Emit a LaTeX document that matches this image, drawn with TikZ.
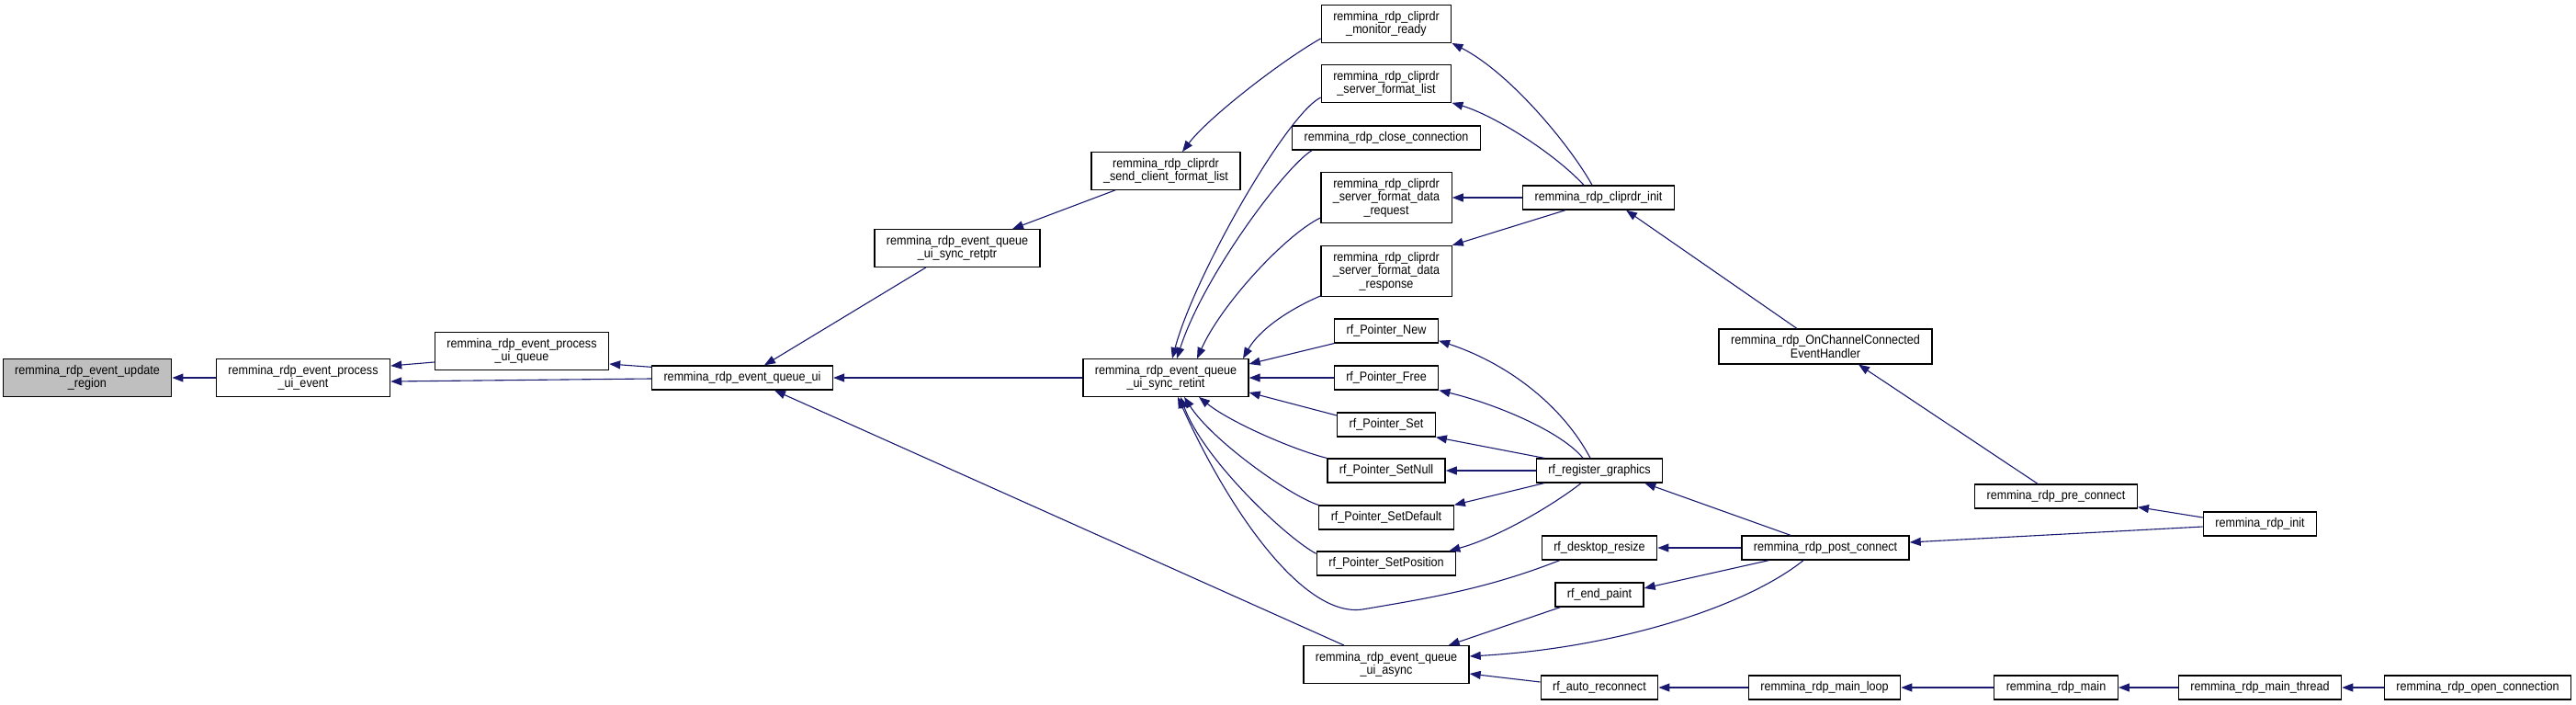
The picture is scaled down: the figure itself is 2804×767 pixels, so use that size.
\documentclass[tikz,border=0pt]{standalone}
\usepackage{fontspec}
\setmainfont{Liberation Sans}[FakeStretch=0.9]
\usetikzlibrary{arrows.meta}
\definecolor{edgeblue}{HTML}{191970}
\definecolor{rootgray}{HTML}{BFBFBF}
\begin{document}
\begin{tikzpicture}[
    x=1pt, y=-1pt,
    fn/.style={rectangle, draw=black, line width=1.3pt, fill=white, align=center,
        font=\fontsize{14}{14.5}\selectfont, inner xsep=13pt, inner ysep=6.5pt, minimum height=26pt},
    root/.style={fn, fill=rootgray},
    call/.style={-{Triangle[length=12pt,width=9pt]}, color=edgeblue, line width=1.1pt}
]
    \useasboundingbox (0,0) rectangle (2804,767);

    % Nodes
    \node[root] (upd) at (95,411) {remmina\_rdp\_event\_update\\\_region};
    \node[fn] (pev) at (330,411) {remmina\_rdp\_event\_process\\\_ui\_event};
    \node[fn] (pq) at (568,382) {remmina\_rdp\_event\_process\\\_ui\_queue};
    \node[fn] (qui) at (808,411) {remmina\_rdp\_event\_queue\_ui};
    \node[fn] (retptr) at (1042,270) {remmina\_rdp\_event\_queue\\\_ui\_sync\_retptr};
    \node[fn] (sendfl) at (1269,186) {remmina\_rdp\_cliprdr\\\_send\_client\_format\_list};
    \node[fn] (retint) at (1269,411) {remmina\_rdp\_event\_queue\\\_ui\_sync\_retint};

    \node[fn] (monrdy) at (1509,26) {remmina\_rdp\_cliprdr\\\_monitor\_ready};
    \node[fn] (srvfl) at (1509,91) {remmina\_rdp\_cliprdr\\\_server\_format\_list};
    \node[fn] (close) at (1509,150) {remmina\_rdp\_close\_connection};
    \node[fn] (dreq) at (1509,215) {remmina\_rdp\_cliprdr\\\_server\_format\_data\\\_request};
    \node[fn] (dresp) at (1509,295) {remmina\_rdp\_cliprdr\\\_server\_format\_data\\\_response};
    \node[fn] (pnew) at (1509,360) {rf\_Pointer\_New};
    \node[fn] (pfree) at (1509,411) {rf\_Pointer\_Free};
    \node[fn] (pset) at (1509,462) {rf\_Pointer\_Set};
    \node[fn] (pnull) at (1509,512) {rf\_Pointer\_SetNull};
    \node[fn] (pdef) at (1509,563) {rf\_Pointer\_SetDefault};
    \node[fn] (ppos) at (1509,613) {rf\_Pointer\_SetPosition};
    \node[fn] (async) at (1509,723) {remmina\_rdp\_event\_queue\\\_ui\_async};

    \node[fn] (clinit) at (1740,215) {remmina\_rdp\_cliprdr\_init};
    \node[fn] (regg) at (1741,512) {rf\_register\_graphics};
    \node[fn] (resize) at (1741,596) {rf\_desktop\_resize};
    \node[fn] (endp) at (1741,647) {rf\_end\_paint};
    \node[fn] (autorc) at (1741,748) {rf\_auto\_reconnect};

    \node[fn] (onch) at (1987,377) {remmina\_rdp\_OnChannelConnected\\EventHandler};
    \node[fn] (postc) at (1987,596) {remmina\_rdp\_post\_connect};
    \node[fn] (mloop) at (1986,748) {remmina\_rdp\_main\_loop};
    \node[fn] (prec) at (2238,540) {remmina\_rdp\_pre\_connect};
    \node[fn] (rmain) at (2238,748) {remmina\_rdp\_main};
    \node[fn] (rinit) at (2460,570) {remmina\_rdp\_init};
    \node[fn] (mthread) at (2460,748) {remmina\_rdp\_main\_thread};
    \node[fn] (openc) at (2697,748) {remmina\_rdp\_open\_connection};

    % Edges, left part
    \draw[call] (pev) -- (upd);
    \draw[call] ([yshift=-12pt]pq.west) -- ([yshift=13pt]pev.east);
    \draw[call] ([yshift=-1pt]qui.west) -- ([yshift=-4pt]pev.east);
    \draw[call] ([yshift=-2pt]qui.north west) -- ([yshift=-14pt]pq.east);
    \draw[call] ([xshift=-34pt]retptr.south) -- ([xshift=24pt]qui.north);
    \draw[call] ([xshift=-55pt]sendfl.south) -- ([xshift=60pt]retptr.north);
    \draw[call] ([yshift=-16pt]monrdy.west) .. controls (1395,66) and (1315,128) .. ([xshift=18pt]sendfl.north);
    \draw[call] (retint) -- (qui);
    \draw[call] ([xshift=-46pt]async.north) -- ([xshift=35pt]qui.south);

    % Edges into retint
    \draw[call] ([yshift=-15pt]srvfl.west) .. controls (1400,125) and (1300,300) .. ([xshift=7pt]retint.north);
    \draw[call] ([xshift=22pt]close.south west) .. controls (1400,180) and (1310,300) .. ([xshift=12pt]retint.north);
    \draw[call] ([yshift=-22pt]dreq.west) .. controls (1400,255) and (1330,330) .. ([xshift=34pt]retint.north);
    \draw[call] ([yshift=-27pt]dresp.west) .. controls (1400,338) and (1370,360) .. ([xshift=84pt]retint.north);
    \draw[call] (pnew.south west) -- ([yshift=15pt]retint.east);
    \draw[call] (pfree) -- (retint);
    \draw[call] ([yshift=10pt]pset.west) -- ([yshift=-16pt]retint.east);
    \draw[call] (pnull.north west) .. controls (1410,490) and (1340,460) .. ([xshift=36pt]retint.south);
    \draw[call] (pdef.north west) .. controls (1405,540) and (1320,480) .. ([xshift=20pt]retint.south);
    \draw[call] ([yshift=-3pt]ppos.north west) .. controls (1400,585) and (1310,500) .. ([xshift=16pt]retint.south);
    \draw[call] ([xshift=20pt]resize.south west) .. controls (1620,640) and (1560,650) .. (1483,663)
        .. controls (1420,672) and (1340,560) .. ([xshift=13pt]retint.south);

    % Edges, right part
    \draw[call] ([xshift=-7pt]clinit.north) .. controls (1710,160) and (1645,80) .. (monrdy.south east);
    \draw[call] ([xshift=-16pt]clinit.north) .. controls (1690,165) and (1625,125) .. (srvfl.south east);
    \draw[call] (clinit) -- (dreq);
    \draw[call] ([xshift=-36pt]clinit.south) -- (dresp.north east);
    \draw[call] ([xshift=-31pt]onch.north) -- ([xshift=30pt]clinit.south);
    \draw[call] ([xshift=-20pt]prec.north) -- ([xshift=36pt]onch.south);
    \draw[call] ([yshift=7pt]rinit.west) -- ([yshift=2pt]prec.south east);
    \draw[call] ([yshift=-3pt]rinit.west) -- ([yshift=6pt]postc.east);
    \draw[call] ([xshift=-10pt]regg.north) .. controls (1700,440) and (1640,395) .. ([yshift=3pt]pnew.south east);
    \draw[call] ([xshift=-18pt]regg.north) .. controls (1700,470) and (1630,440) .. (pfree.south east);
    \draw[call] ([xshift=9pt]regg.north west) -- (pset.south east);
    \draw[call] (regg) -- (pnull);
    \draw[call] ([xshift=9pt]regg.south west) -- (pdef.north east);
    \draw[call] ([xshift=-20pt]regg.south) .. controls (1690,550) and (1630,585) .. ([xshift=-8pt]ppos.north east);
    \draw[call] ([xshift=-38pt]postc.north) -- ([xshift=-20pt]regg.south east);
    \draw[call] (postc) -- (resize);
    \draw[call] ([xshift=30pt]postc.south west) -- ([yshift=7pt]endp.east);
    \draw[call] ([xshift=-24pt]postc.south) .. controls (1900,660) and (1760,705) .. ([yshift=9pt]async.east);
    \draw[call] ([xshift=6pt]endp.south west) -- ([xshift=-23pt]async.north east);
    \draw[call] ([yshift=6pt]autorc.west) -- ([yshift=-10pt]async.east);
    \draw[call] (mloop) -- (autorc);
    \draw[call] (rmain) -- (mloop);
    \draw[call] (mthread) -- (rmain);
    \draw[call] (openc) -- (mthread);
\end{tikzpicture}
\end{document}
